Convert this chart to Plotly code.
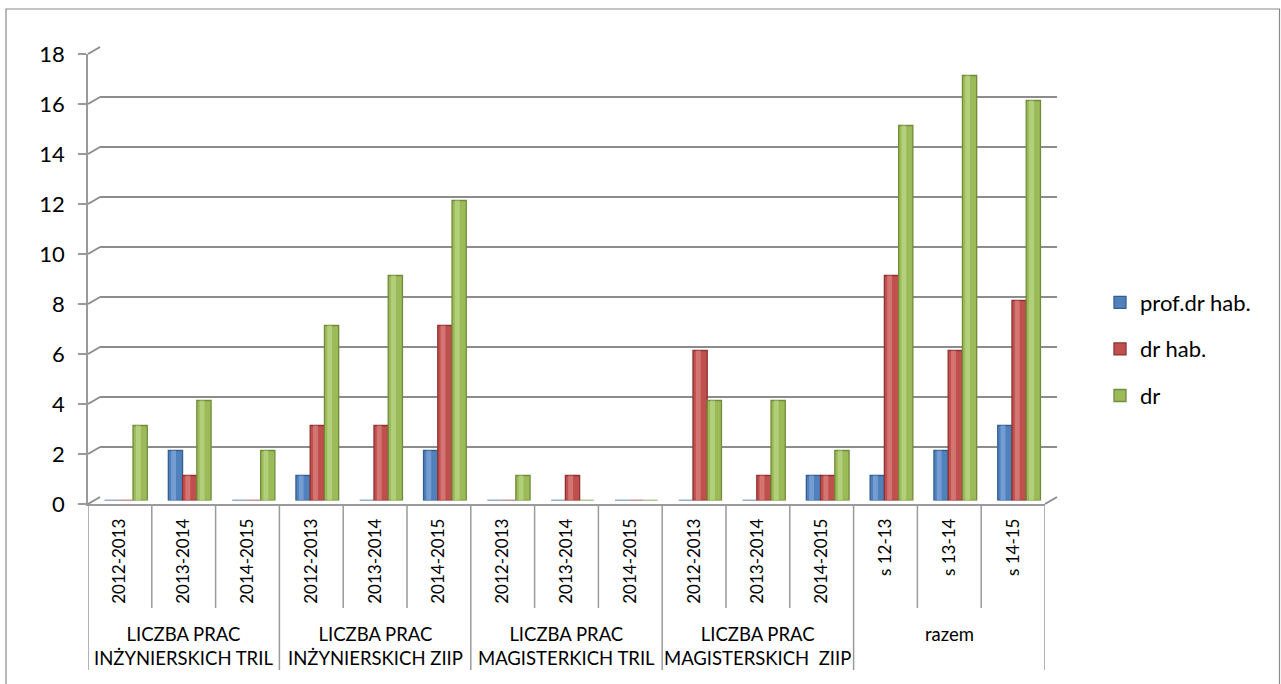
import plotly.graph_objects as go

# --- data -------------------------------------------------------------
years = ["2012-2013", "2013-2014", "2014-2015",
         "2012-2013", "2013-2014", "2014-2015",
         "2012-2013", "2013-2014", "2014-2015",
         "2012-2013", "2013-2014", "2014-2015",
         "s 12-13", "s 13-14", "s 14-15"]
groups = ["LICZBA PRAC<br>INŻYNIERSKICH TRIL",
          "LICZBA PRAC<br>INŻYNIERSKICH ZIIP",
          "LICZBA PRAC<br>MAGISTERKICH TRIL",
          "LICZBA PRAC<br>MAGISTERSKICH  ZIIP",
          "razem"]
group_size = 3

prof_dr_hab = [0, 2, 0, 1, 0, 2, 0, 0, 0, 0, 0, 1, 1, 2, 3]
dr_hab = [0, 1, 0, 3, 3, 7, 0, 1, 0, 6, 1, 1, 9, 6, 8]
dr = [3, 4, 2, 7, 9, 12, 1, 0, 0, 4, 4, 2, 15, 17, 16]

series_names = ["prof.dr hab.", "dr hab.", "dr"]
y_ticks = list(range(0, 19, 2))

# --- geometry helpers (pixel -> paper) ---------------------------------
W, H = 1281, 684


def px(p):
    return p / W


def py(p):
    return 1 - p / H


# three depth planes: front (axes), middle (bars), back (wall grid)
FRONT_X = (88, 1045)
FRONT_Y = (504, 54)          # pixel rows for value 0 and value 18
DEPTH = (12, 7)              # back wall shift right / up in px
MID_X = (FRONT_X[0] + DEPTH[0] / 2, FRONT_X[1] + DEPTH[0] / 2)
MID_Y = (FRONT_Y[0] - DEPTH[1] / 2, FRONT_Y[1] - DEPTH[1] / 2)
BACK_X = (FRONT_X[0] + DEPTH[0], FRONT_X[1] + DEPTH[0])
BACK_Y = (FRONT_Y[0] - DEPTH[1], FRONT_Y[1] - DEPTH[1])

Y_MAX = 18
n = len(years)
x_range = [-0.5, n - 0.5]

FONT = "Lato, 'Open Sans', sans-serif"
GRID = "#8c8c8c"
AXIS = "#9a9a9a"

colors = ["#4F81BD", "#C0504D", "#9BBB59"]
edges = ["#375E8F", "#8E3331", "#718B3A"]
shine = ["#8FB1E0", "#E0908D", "#C4DC92"]

# bar layout inside one category (fractions of a category slot)
BARGAP = 0.33
bar_w = (1 - BARGAP) / 3
offsets = [-(1 - BARGAP) / 2 + k * bar_w for k in range(3)]

fig = go.Figure()

# back wall plane: only horizontal gridlines
fig.add_trace(go.Scatter(x=[None], y=[None], xaxis="x", yaxis="y",
                         showlegend=False, hoverinfo="skip"))
# front plane: value axis and category axis
fig.add_trace(go.Scatter(x=[None], y=[None], xaxis="x2", yaxis="y2",
                         showlegend=False, hoverinfo="skip"))

# bars sit in the middle plane; a narrow lighter strip gives the
# rounded, lit look of the columns
for name, vals, c, e, s, off in zip(series_names, [prof_dr_hab, dr_hab, dr],
                                    colors, edges, shine, offsets):
    fig.add_trace(go.Bar(
        x=list(range(n)), y=vals, name=name, legendgroup=name,
        xaxis="x3", yaxis="y3", width=bar_w, offset=off,
        marker=dict(color=c, line=dict(color=e, width=1.3)),
        hoverinfo="skip",
    ))
    fig.add_trace(go.Bar(
        x=list(range(n)), y=vals, name=name, legendgroup=name,
        showlegend=False,
        xaxis="x3", yaxis="y3", width=bar_w * 0.34, offset=off + bar_w * 0.2,
        marker=dict(color=s, opacity=0.6, line=dict(width=0)),
        hoverinfo="skip",
    ))

shapes = []

# category dividers below the front axis
for b in range(n + 1):
    is_group = b % group_size == 0
    shapes.append(dict(type="line", xref="x2", yref="paper",
                       x0=b - 0.5, x1=b - 0.5,
                       y0=py(FRONT_Y[0]), y1=py(670 if is_group else 608),
                       line=dict(color=AXIS, width=1.5)))


# side-wall connectors from the front value ticks to the back gridlines
def val_to_paper(v, plane):
    return py(plane[0] + (plane[1] - plane[0]) * v / Y_MAX)


for v in y_ticks:
    shapes.append(dict(type="line", xref="paper", yref="paper",
                       x0=px(FRONT_X[0]), y0=val_to_paper(v, FRONT_Y),
                       x1=px(BACK_X[0]), y1=val_to_paper(v, BACK_Y),
                       line=dict(color=GRID, width=2)))

# right edge of the floor
shapes.append(dict(type="line", xref="paper", yref="paper",
                   x0=px(FRONT_X[1]), y0=val_to_paper(0, FRONT_Y),
                   x1=px(BACK_X[1]), y1=val_to_paper(0, BACK_Y),
                   line=dict(color=GRID, width=2)))

# outer chart border
shapes.append(dict(type="rect", xref="paper", yref="paper",
                   x0=px(6), x1=px(1279.5), y0=-0.05, y1=py(9),
                   line=dict(color="#8a8a8a", width=1.2)))

# group labels under the year labels
annotations = []
for g, label in enumerate(groups):
    center = g * group_size + (group_size - 1) / 2
    annotations.append(dict(
        x=center, xref="x2", y=py(621), yref="paper",
        text=label, showarrow=False, xanchor="center", yanchor="top",
        font=dict(family=FONT, size=18.5, color="#000000"),
    ))

fig.update_layout(
    width=W, height=H,
    margin=dict(l=0, r=0, t=0, b=0, autoexpand=False),
    paper_bgcolor="white", plot_bgcolor="rgba(0,0,0,0)",
    barmode="overlay",
    font=dict(family=FONT, color="#000000"),
    showlegend=True,
    legend=dict(x=px(1100), xanchor="left", y=py(349), yanchor="middle",
                font=dict(family=FONT, size=22, color="#000000"),
                traceorder="grouped", tracegroupgap=15,
                bgcolor="rgba(0,0,0,0)"),
    # back wall
    xaxis=dict(domain=[px(BACK_X[0]), px(BACK_X[1])], range=x_range,
               visible=False, anchor="y", automargin=False),
    yaxis=dict(domain=[py(BACK_Y[0]), py(BACK_Y[1])], range=[0, Y_MAX],
               tickvals=y_ticks, showticklabels=False, ticks="",
               showgrid=True, gridcolor=GRID, gridwidth=2.2,
               zeroline=False, showline=False, anchor="x", automargin=False),
    # front axes
    xaxis2=dict(domain=[px(FRONT_X[0]), px(FRONT_X[1])], range=x_range,
                tickvals=list(range(n)), ticktext=years, tickangle=-90,
                ticks="", showgrid=False, zeroline=False,
                showline=True, linecolor=AXIS, linewidth=1.5,
                tickfont=dict(family=FONT, size=17, color="#000000"),
                ticklabelstandoff=6,
                anchor="y2", automargin=False),
    yaxis2=dict(domain=[py(FRONT_Y[0]), py(FRONT_Y[1])], range=[0, Y_MAX],
                tickvals=y_ticks, ticks="outside", ticklen=8,
                tickcolor=AXIS, tickwidth=1.5,
                showline=True, linecolor=AXIS, linewidth=1.5,
                showgrid=False, zeroline=False,
                tickfont=dict(family=FONT, size=22, color="#000000"),
                ticklabelstandoff=9,
                anchor="x2", automargin=False),
    # bar plane
    xaxis3=dict(domain=[px(MID_X[0]), px(MID_X[1])], range=x_range,
                visible=False, anchor="y3", automargin=False),
    yaxis3=dict(domain=[py(MID_Y[0]), py(MID_Y[1])], range=[0, Y_MAX],
                visible=False, anchor="x3", automargin=False),
    shapes=shapes,
    annotations=annotations,
)

fig.write_html("out.html")
